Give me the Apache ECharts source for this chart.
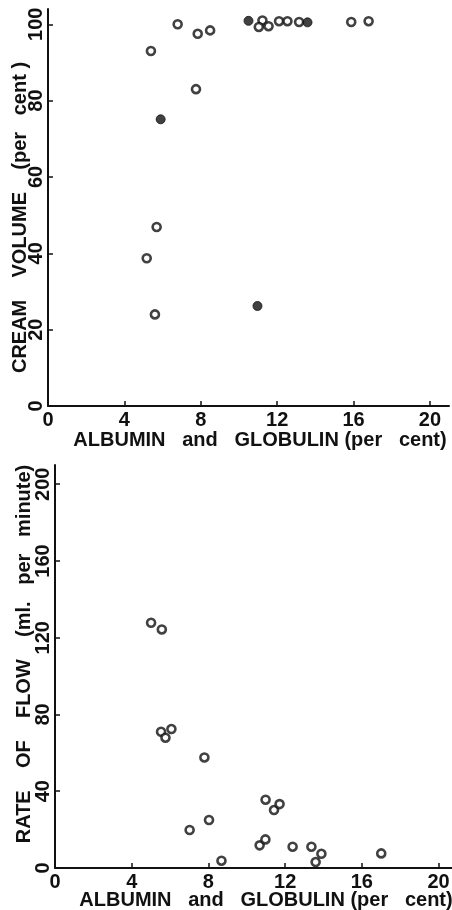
<!DOCTYPE html>
<html>
<head>
<meta charset="utf-8">
<script src="https://cdn.jsdelivr.net/npm/echarts@6/dist/echarts.min.js"></script>
<style>
  html, body { margin: 0; padding: 0; background: #fff; }
  #chart { width: 452px; height: 910px; }
</style>
</head>
<body>
<div id="chart"></div>
<script>
// Upper panel: cream volume against albumin + globulin
const creamProtein = [5.39, 6.79, 7.84, 8.49, 7.75, 5.90, 5.69, 10.50, 11.23, 11.04, 11.55, 12.10, 12.54, 13.15, 13.59, 15.88, 16.79, 5.17, 5.60, 10.97];
const creamVolume  = [93.0, 100.0, 97.5, 98.4, 83.0, 75.1, 46.9, 100.9, 101.0, 99.3, 99.5, 100.8, 100.8, 100.6, 100.5, 100.6, 100.8, 38.7, 24.0, 26.2];
const creamSolid   = [0, 0, 0, 0, 0, 1, 0, 1, 0, 0, 0, 0, 0, 0, 1, 0, 0, 0, 0, 1];

// Lower panel: rate of flow against albumin + globulin
const flowProtein = [5.01, 5.57, 5.53, 5.76, 6.07, 7.79, 7.02, 8.03, 8.68, 10.98, 11.42, 11.71, 10.67, 10.97, 12.39, 13.37, 13.59, 13.89, 17.01];
const flowRate    = [127.8, 124.3, 71.0, 67.9, 72.4, 57.6, 19.8, 25.0, 3.8, 35.6, 30.2, 33.3, 11.8, 14.9, 11.1, 11.1, 3.1, 7.4, 7.6];

// Tick labels
const xTicks = [0, 4, 8, 12, 16, 20];
const creamTicks = [0, 20, 40, 60, 80, 100];
const flowTicks = [0, 40, 80, 120, 160, 200];

const INK = '#111';
const FONT = 'Liberation Sans';

function pairs(xs, ys, keep) {
  const out = [];
  for (let i = 0; i < xs.length; i++) if (!keep || keep(i)) out.push([xs[i], ys[i]]);
  return out;
}

function xAxisFor(gridIndex, max, name, gap, shift) {
  return {
    type: 'value', gridIndex, min: 0, max,
    splitLine: { show: false },
    axisLine: { show: true, onZero: false, lineStyle: { color: INK, width: 2 } },
    axisTick: { show: true, inside: true, length: 5, customValues: xTicks, lineStyle: { color: INK, width: 1.5 } },
    axisLabel: { customValues: xTicks, color: INK, fontFamily: FONT, fontWeight: 'bold', fontSize: 20, margin: 4 },
    name, nameLocation: 'middle', nameGap: gap, nameMoveOverlap: false,
    nameTextStyle: { color: INK, fontFamily: FONT, fontWeight: 'bold', fontSize: 20, padding: [0, 0, 0, shift] }
  };
}

function yAxisFor(gridIndex, max, ticks, name, gap, pad) {
  return {
    type: 'value', gridIndex, min: 0, max,
    splitLine: { show: false },
    axisLine: { show: true, onZero: false, lineStyle: { color: INK, width: 2 } },
    axisTick: { show: true, inside: true, length: 5, customValues: ticks, lineStyle: { color: INK, width: 1.5 } },
    axisLabel: { customValues: ticks, rotate: 90, color: INK, fontFamily: FONT, fontWeight: 'bold', fontSize: 20, margin: 2 },
    name, nameLocation: 'middle', nameGap: gap, nameMoveOverlap: false,
    nameTextStyle: { color: INK, fontFamily: FONT, fontWeight: 'bold', fontSize: 20, padding: pad }
  };
}

const openStyle = { color: '#fff', borderColor: INK, borderWidth: 2.6 };
const solidStyle = { color: INK, borderColor: INK, borderWidth: 1 };

const chart = echarts.init(document.getElementById('chart'), null, { renderer: 'canvas' });
chart.setOption({
  backgroundColor: '#fff',
  animation: false,
  grid: [
    { left: 48, top: 9, width: 401, height: 397, outerBoundsMode: 'none', containLabel: false },
    { left: 55, top: 465, width: 397, height: 403, outerBoundsMode: 'none', containLabel: false }
  ],
  xAxis: [
    xAxisFor(0, 21, 'ALBUMIN   and   GLOBULIN (per   cent)', 24, 23),
    xAxisFor(1, 20.7, 'ALBUMIN   and   GLOBULIN (per   cent)', 22, 25)
  ],
  yAxis: [
    yAxisFor(0, 104, creamTicks, 'CREAM    VOLUME    (per   cent )', 18, [0, 20, 0, 0]),
    yAxisFor(1, 210, flowTicks, 'RATE    OF    FLOW    (ml.   per   minute)', 21, [0, 0, 0, 25])
  ],
  series: [
    { type: 'scatter', xAxisIndex: 0, yAxisIndex: 0, symbol: 'circle', symbolSize: 8,
      itemStyle: openStyle, data: pairs(creamProtein, creamVolume, i => !creamSolid[i]) },
    { type: 'scatter', xAxisIndex: 0, yAxisIndex: 0, symbol: 'circle', symbolSize: 9,
      itemStyle: solidStyle, data: pairs(creamProtein, creamVolume, i => creamSolid[i]) },
    { type: 'scatter', xAxisIndex: 1, yAxisIndex: 1, symbol: 'circle', symbolSize: 8,
      itemStyle: openStyle, data: pairs(flowProtein, flowRate) }
  ]
});
</script>
</body>
</html>
